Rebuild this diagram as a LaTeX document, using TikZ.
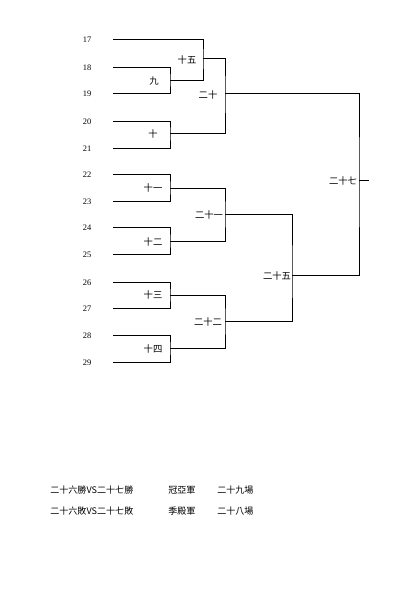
\documentclass[tikz,border=0pt]{standalone}
\usepackage{fontspec}
\setmainfont{Liberation Serif}
\newfontfamily\cjk{Noto Sans CJK TC}
\begin{document}
\begin{tikzpicture}[x=0.75pt,y=-0.75pt,
  br/.style={draw=black,line width=0.75pt},
  seed/.style={inner sep=0pt,font=\fontsize{6.3}{7}\selectfont},
  lab/.style={inner sep=0pt,font=\cjk\fontsize{7}{8}\selectfont},
  note/.style={inner sep=0pt,anchor=west,font=\cjk\fontsize{6.8}{8}\selectfont}]
\useasboundingbox[fill=white] (0,0) rectangle (400,600);
% seed numbers
\foreach \n/\y in {17/39,18/67,19/93,20/121,21/148,22/174,23/201,24/227,25/254,26/282,27/308,28/335,29/362}{
  \node[seed] (n\n) at (87,\y+1) {\n};
  \coordinate (a\n) at (113,\y);
}
% match points
\coordinate (m9) at (170,80);
\coordinate (m10) at (170,133);
\coordinate (m11) at (170,188);
\coordinate (m12) at (170,241);
\coordinate (m13) at (170,295);
\coordinate (m14) at (170,348);
\coordinate (m15) at (203,58);
\coordinate (m20) at (225,93);
\coordinate (m21) at (225,214);
\coordinate (m22) at (225,321);
\coordinate (m25) at (292,275);
\coordinate (m27) at (359,180);
\coordinate (champ) at (369,180);
% brackets
\draw[br] (a18) -| (m9) |- (a19);
\draw[br] (a20) -| (m10) |- (a21);
\draw[br] (a22) -| (m11) |- (a23);
\draw[br] (a24) -| (m12) |- (a25);
\draw[br] (a26) -| (m13) |- (a27);
\draw[br] (a28) -| (m14) |- (a29);
\draw[br] (a17) -| (m15) |- (m9);
\draw[br] (m15) -| (m20) |- (m10);
\draw[br] (m11) -| (m21) |- (m12);
\draw[br] (m13) -| (m22) |- (m14);
\draw[br] (m21) -| (m25) |- (m22);
\draw[br] (m20) -| (m27) |- (m25);
\draw[br] (m27) -- (champ);
% labels
\node[lab] (l9) at (154,81) {九};
\node[lab] (l10) at (153,134) {十};
\node[lab] (l11) at (153,188) {十一};
\node[lab] (l12) at (153,242) {十二};
\node[lab] (l13) at (153,295) {十三};
\node[lab] (l14) at (153,349) {十四};
\node[lab] (l15) at (187,60) {十五};
\node[lab] (l20) at (208,95) {二十};
\node[lab] (l21) at (209,215) {二十一};
\node[lab] (l22) at (208,322) {二十二};
\node[lab] (l25) at (277,276) {二十五};
\node[lab] (l27) at (343,181) {二十七};
% notes
\node[note] (t1) at (50,490) {二十六勝VS二十七勝};
\node[note] (t2) at (168,490) {冠亞軍};
\node[note] (t3) at (217,490) {二十九場};
\node[note] (t4) at (50,511) {二十六敗VS二十七敗};
\node[note] (t5) at (168,511) {季殿軍};
\node[note] (t6) at (217,511) {二十八場};
\end{tikzpicture}
\end{document}
